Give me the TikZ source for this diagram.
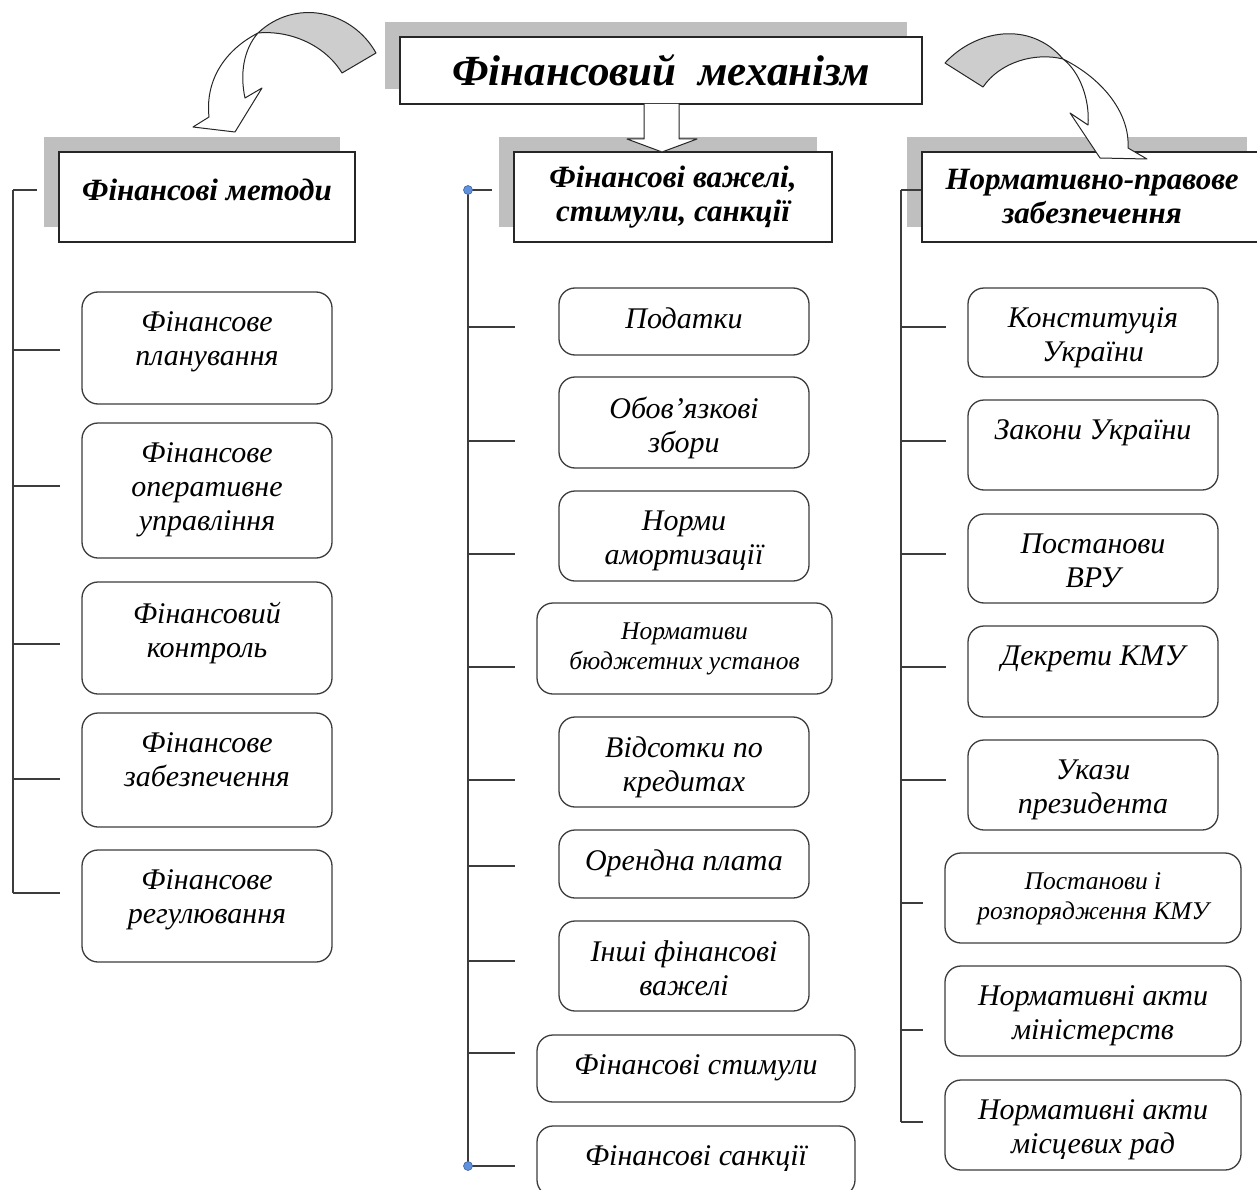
\documentclass[tikz,border=0pt]{standalone}
\usepackage{fontspec}
\setmainfont{Liberation Serif}
\usetikzlibrary{shadows, calc}

\definecolor{linecol}{RGB}{60,60,60}
\definecolor{dotblue}{RGB}{95,145,222}
\definecolor{arrgray}{RGB}{205,205,205}

\tikzset{
  link/.style={draw=linecol, line width=1.4pt},
  mbox/.style={draw=linecol, line width=1.3pt, rounded corners=16pt, fill=white, inner sep=0pt},
  headbox/.style={draw=black!85, line width=1.3pt, fill=white, inner sep=0pt, align=center,
    drop shadow={shadow xshift=-15pt, shadow yshift=15pt, fill=black!25, opacity=1},
    font=\fontsize{31}{34}\selectfont\bfseries\itshape},
  btxt/.style={inner sep=0pt, align=center, anchor=north, yshift=-20.5pt,
    font=\fontsize{30}{34}\selectfont\itshape},
  stxt/.style={inner sep=0pt, align=center, anchor=north, yshift=-20pt,
    font=\fontsize{25.5}{30.5}\selectfont\itshape},
  blockarr/.style={draw=black!85, line width=1pt, line join=round}
}

\begin{document}
\begin{tikzpicture}[x=1pt, y=-1pt]
\useasboundingbox (0,0) rectangle (1257,1190);

\node[headbox, minimum width=522pt, minimum height=67pt, font=\fontsize{43}{44}\selectfont\bfseries\itshape]
  (title) at (661,70.5) {Фінансовий\ \ механізм};
\node[headbox, minimum width=296pt, minimum height=90pt, text depth=14pt] (lh) at (207,197) {Фінансові методи};
\node[headbox, minimum width=318pt, minimum height=90pt] (mh) at (673,197) {Фінансові важелі,\\стимули, санкції};
\node[headbox, minimum width=340pt, minimum height=90pt] (rh) at (1092,197) {Нормативно-правове\\забезпечення};

\coordinate (lsp) at (13,190);
\coordinate (lhe) at (37,190);
\coordinate (msp) at (468,190);
\coordinate (mhe) at (492,190);
\coordinate (rsp) at (901,190);

\foreach \n/\ya/\yb/\ty/\t in {l1/292/404/350/{Фінансове\\планування},
  l2/423/558/486/{Фінансове\\оперативне\\управління}, l3/582/694/644/{Фінансовий\\контроль},
  l4/713/827/779/{Фінансове\\забезпечення}, l5/850/962/893/{Фінансове\\регулювання}} {
\node[mbox, minimum width=250pt, minimum height={(\yb-\ya)*1pt}] (\n) at (207,{(\ya+\yb)/2}) {};
\node[btxt] (\n-t) at (\n.north) {\t};
\coordinate (\n-e) at (60,\ty);
\draw[link] (lsp |- \n-e) -- (\n-e);
}

\foreach \n/\x/\w/\ya/\yb/\ty/\s/\t in {m1/684/250/288/355/327/btxt/{Податки},
  m2/684/250/377/468/441/btxt/{Обов’язкові\\збори}, m3/684/250/491/581/554/btxt/{Норми\\амортизації},
  m4/684.5/295/603/694/667/stxt/{Нормативи\\бюджетних установ},
  m5/684/250/717/807/780/btxt/{Відсотки по\\кредитах}, m6/684/250/830/898/866/btxt/{Орендна плата},
  m7/684/250/921/1011/961/btxt/{Інші фінансові\\важелі}, m8/696/318/1035/1102/1053/btxt/{Фінансові стимули},
  m9/696/318/1126/1196/1166/btxt/{Фінансові санкції}} {
\node[mbox, minimum width=\w pt, minimum height={(\yb-\ya)*1pt}] (\n) at (\x,{(\ya+\yb)/2}) {};
\node[\s] (\n-t) at (\n.north) {\t};
\coordinate (\n-e) at (515,\ty);
\draw[link] (msp |- \n-e) -- (\n-e);
}

\foreach \n/\w/\ya/\yb/\ty/\te/\s/\t in {r1/250/288/377/327/946/btxt/{Конституція\\України},
  r2/250/400/490/441/946/btxt/{Закони України}, r3/250/514/603/554/946/btxt/{Постанови\\ВРУ},
  r4/250/626/717/667/946/btxt/{Декрети КМУ}, r5/250/740/830/780/946/btxt/{Укази\\президента},
  r6/296/853/943/903/923/stxt/{Постанови і\\розпорядження КМУ},
  r7/296/966/1056/1030/923/btxt/{Нормативні акти\\міністерств},
  r8/296/1080/1170/1122/923/btxt/{Нормативні акти\\місцевих рад}} {
\node[mbox, minimum width=\w pt, minimum height={(\yb-\ya)*1pt}] (\n) at (1093,{(\ya+\yb)/2}) {};
\node[\s] (\n-t) at (\n.north) {\t};
\coordinate (\n-e) at (\te,\ty);
\draw[link] (rsp |- \n-e) -- (\n-e);
}

\draw[link] (lsp) -- (lsp |- l5-e);
\draw[link] (lsp) -- (lhe);
\draw[link] (msp) -- (msp |- m9-e);
\draw[link] (msp) -- (mhe);
\draw[link] (rsp) -- (rsp |- r8-e);
\draw[link] (rsp) -- (rsp -| rh.west);
\filldraw[fill=dotblue, draw=dotblue!70!black, line width=0.6pt] (msp) circle (4.5pt) (msp |- m9-e) circle (4.5pt);

\draw[blockarr, fill=white] (644,104) -- (644,139) -- (627,139) -- (662,152) -- (697,139) -- (679,139) -- (679,104);

\draw[blockarr, fill=arrgray] (376,53) .. controls (352,10) and (295,-2) .. (258,33)
  .. controls (290,30) and (325,45) .. (342,73) -- cycle;
\draw[blockarr, fill=white] (258,33) .. controls (225,50) and (205,80) .. (209,117) -- (193,127) -- (235,132)
  -- (262,88) -- (245,98) .. controls (240,75) and (243,50) .. (258,33) -- cycle;

\draw[blockarr, fill=arrgray] (945,63) .. controls (975,30) and (1030,20) .. (1063,59)
  .. controls (1035,52) and (1000,62) .. (983,87) -- cycle;
\draw[blockarr, fill=white] (1063,59) .. controls (1105,80) and (1130,115) .. (1128,148) -- (1147,159) -- (1100,158)
  -- (1070,113) -- (1088,125) .. controls (1090,100) and (1080,72) .. (1063,59) -- cycle;
\end{tikzpicture}
\end{document}
